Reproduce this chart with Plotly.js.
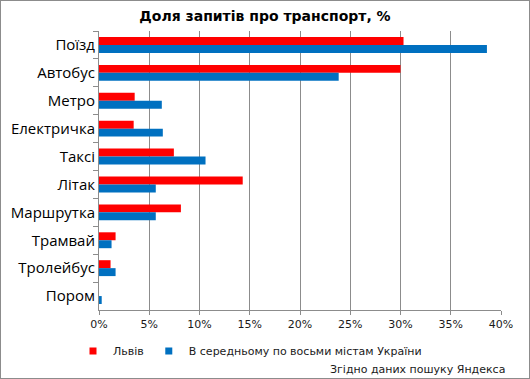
<!DOCTYPE html>
<html>
<head>
<meta charset="utf-8">
<script src="https://cdn.plot.ly/plotly-3.0.1.min.js"></script>
<style>
  html, body { margin: 0; padding: 0; background: #fff; }
  #wrap { position: relative; width: 530px; height: 379px; }
  #wrap::after { content: ""; position: absolute; left: 0; top: 0; width: 528px; height: 377px; border: 1px solid #8c8c8c; pointer-events: none; }
  #chart { width: 530px; height: 379px; }
</style>
</head>
<body>
<div id="wrap"><div id="chart"></div></div>
<script>
const categories = ["Поїзд", "Автобус", "Метро", "Електричка", "Таксі", "Літак", "Маршрутка", "Трамвай", "Тролейбус", "Пором"];
const lvivValues = [30.3, 30.0, 3.55, 3.45, 7.45, 14.3, 8.15, 1.65, 1.15, 0];
const ukraineValues = [38.6, 23.85, 6.25, 6.35, 10.6, 5.65, 5.65, 1.25, 1.65, 0.27];
const seriesNames = ["Львів", "В середньому по восьми містам України"];
const seriesColors = ["#ff0000", "#0070c0"];
const xTickVals = [0, 5, 10, 15, 20, 25, 30, 35, 40];
const xTickText = ["0%", "5%", "10%", "15%", "20%", "25%", "30%", "35%", "40%"];
const titleText = "Доля запитів про транспорт, %";
const sourceText = "Згідно даних пошуку Яндекса";

const bars = [lvivValues, ukraineValues].map((vals, i) => ({
  type: "bar",
  orientation: "h",
  x: vals,
  y: categories,
  name: seriesNames[i],
  marker: { color: seriesColors[i], line: { width: 0 } },
  showlegend: false,
  hoverinfo: "x+y"
}));

const legendDummies = seriesNames.map((n, i) => ({
  type: "scatter",
  mode: "markers",
  x: [null],
  y: [null],
  name: n,
  marker: { symbol: "square", size: 7, color: seriesColors[i] },
  showlegend: true,
  hoverinfo: "skip"
}));

const layout = {
  width: 530,
  height: 379,
  margin: { l: 99, r: 29, t: 31, b: 69, pad: 0 },
  paper_bgcolor: "#ffffff",
  plot_bgcolor: "#ffffff",
  barmode: "group",
  bargap: 0.43,
  bargroupgap: 0,
  title: {
    text: titleText,
    font: { family: "DejaVu Sans", size: 14, color: "#000", weight: "bold" },
    x: 0.5, xref: "container", xanchor: "center",
    y: 1 - 16 / 379, yref: "container", yanchor: "middle"
  },
  xaxis: {
    range: [0, 40],
    tickvals: xTickVals,
    ticktext: xTickText,
    showgrid: true,
    gridcolor: "#8c8c8c",
    gridwidth: 1,
    zeroline: false,
    showline: true,
    linecolor: "#8c8c8c",
    linewidth: 1,
    ticks: "outside",
    ticklen: 4,
    tickcolor: "#8c8c8c",
    tickfont: { family: "DejaVu Sans", size: 11, color: "#1a1a1a" },
    fixedrange: true
  },
  yaxis: {
    type: "category",
    categoryorder: "array",
    categoryarray: categories,
    autorange: "reversed",
    tickson: "boundaries",
    showgrid: false,
    zeroline: false,
    showline: true,
    linecolor: "#8c8c8c",
    linewidth: 1,
    ticks: "outside",
    ticklen: 5,
    tickcolor: "#8c8c8c",
    tickfont: { family: "Open Sans", size: 15, color: "#000" },
    fixedrange: true
  },
  legend: {
    orientation: "h",
    xref: "container", yref: "container",
    x: 73 / 530, xanchor: "left",
    y: 1 - 336.5 / 379, yanchor: "top",
    font: { family: "DejaVu Sans", size: 11, color: "#1a1a1a" },
    itemwidth: 30,
    bgcolor: "rgba(0,0,0,0)",
    borderwidth: 0
  },
  annotations: [{
    text: sourceText,
    xref: "paper", yref: "paper",
    x: (507 - 99) / 402, xanchor: "right",
    y: -(369 - 310) / 279, yanchor: "middle",
    showarrow: false,
    font: { family: "DejaVu Sans", size: 11, color: "#1a1a1a" }
  }]
};

Plotly.newPlot("chart", bars.concat(legendDummies), layout, { displayModeBar: false, staticPlot: true });
</script>
</body>
</html>
